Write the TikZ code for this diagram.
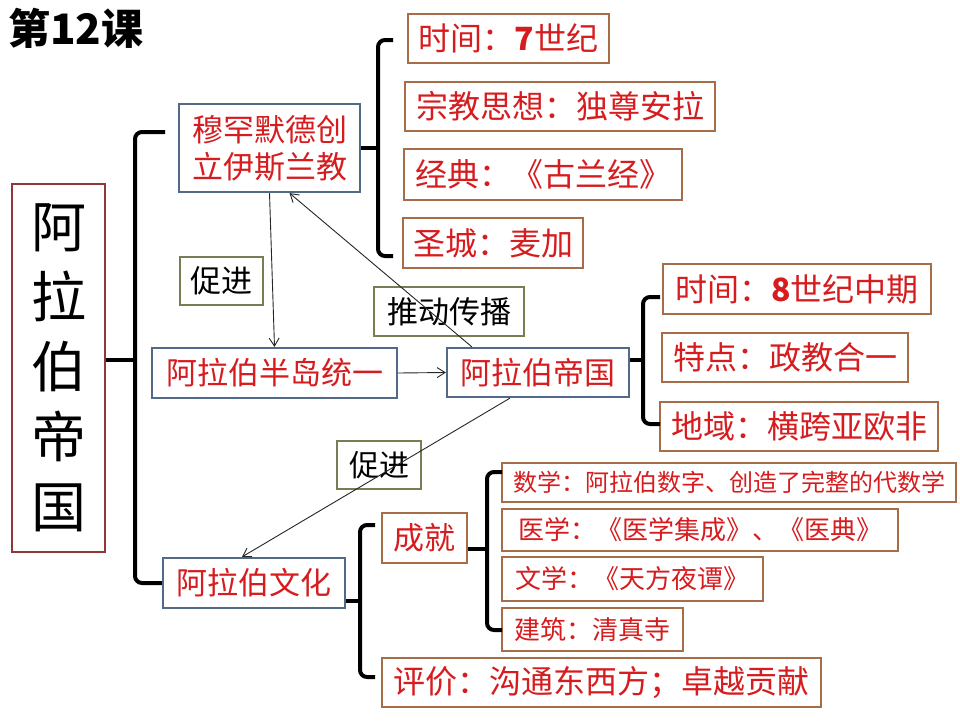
\documentclass[tikz,border=0pt]{standalone}
\usepackage{fontspec}
\setmainfont{Noto Sans CJK SC}
\usetikzlibrary{arrows.meta}
\definecolor{redc}{RGB}{214,28,30}
\definecolor{brownc}{RGB}{165,110,72}
\definecolor{bluec}{RGB}{82,106,136}
\definecolor{olivec}{RGB}{122,124,84}
\definecolor{maroonc}{RGB}{145,55,58}
\newcommand\fsz[1]{\fontsize{#1}{#1}\selectfont}
\tikzset{
  bbox/.style={draw=brownc, line width=2.2pt, inner sep=0pt, text=redc},
  sbox/.style={draw=bluec, line width=2.2pt, inner sep=0pt, text=redc},
  obox/.style={draw=olivec, line width=2pt, inner sep=0pt, text=black},
  brace/.style={line width=4pt, rounded corners=7pt, draw=black},
  conn/.style={line width=0.9pt, draw=black!85, -{Straight Barb[length=8pt,width=10pt]}},
}
\begin{document}
\begin{tikzpicture}[x=1pt,y=-1pt]
\useasboundingbox[fill=white] (0,0) rectangle (960,720);

% title
\node[font=\fsz{42}\bfseries, anchor=west, inner sep=0pt] (title) at (8,28) {第12课};

% main box
\node[draw=maroonc, line width=2pt, inner sep=0pt, minimum width=93, minimum height=368,
      align=center, font=\fontsize{55}{70}\selectfont] (big) at (58.5,368) {阿\\拉\\伯\\帝\\国};

% level 1
\node[sbox, minimum width=181, minimum height=88, align=center, font=\fontsize{31}{37}\selectfont] (mu) at (269.5,148) {穆罕默德创\\立伊斯兰教};
\node[sbox, minimum width=245, minimum height=50, font=\fsz{31}] (ban) at (274.5,373) {阿拉伯半岛统一};
\node[sbox, minimum width=182, minimum height=49, font=\fsz{31}] (di) at (538,372.5) {阿拉伯帝国};
\node[sbox, minimum width=182, minimum height=50, font=\fsz{31}] (wen) at (254,583) {阿拉伯文化};

% labels
\node[obox, minimum width=83, minimum height=48, font=\fsz{31}] (cj1) at (221.5,281) {促进};
\node[obox, minimum width=150, minimum height=49, font=\fsz{31}] (td) at (449,311.5) {推动传播};
\node[obox, minimum width=84, minimum height=48, font=\fsz{30}] (cj2) at (379,465) {促进};

% religion details
\node[bbox, minimum width=201, minimum height=49, font=\fsz{32}] (t1) at (508.5,38.5) {时间：\textbf{7}世纪};
\node[bbox, minimum width=310, minimum height=49, font=\fsz{32}] (t2) at (560,106.5) {宗教思想：独尊安拉};
\node[bbox, minimum width=278, minimum height=51, font=\fsz{32}] (t3) at (543,174.5) {经典：《古兰经》};
\node[bbox, minimum width=180, minimum height=50, font=\fsz{32}] (t4) at (493,243) {圣城：麦加};

% empire details
\node[bbox, minimum width=268, minimum height=50, font=\fsz{32}] (m1) at (797,289) {时间：\textbf{8}世纪中期};
\node[bbox, minimum width=246, minimum height=49, font=\fsz{32}] (m2) at (785,357.5) {特点：政教合一};
\node[bbox, minimum width=278, minimum height=49, font=\fsz{32}] (m3) at (799,426.5) {地域：横跨亚欧非};

% culture
\node[bbox, minimum width=85, minimum height=50, font=\fsz{31}] (cheng) at (424.5,538) {成就};
\node[bbox, minimum width=454, minimum height=39, font=\fsz{24}] (a1) at (729,482.5) {数学：阿拉伯数字、创造了完整的代数学};
\node[bbox, minimum width=396, minimum height=42, font=\fsz{26}] (a2) at (700,530) {医学：《医学集成》、《医典》};
\node[bbox, minimum width=261, minimum height=44, font=\fsz{26}] (a3) at (632.5,579) {文学：《天方夜谭》};
\node[bbox, minimum width=181, minimum height=43, font=\fsz{26}] (a4) at (592.5,629.5) {建筑：清真寺};
\node[bbox, minimum width=439, minimum height=49, font=\fsz{32}] (pj) at (601.5,682.5) {评价：沟通东西方；卓越贡献};

% braces
\coordinate (b1t) at (165,132); \coordinate (b1m) at (135,360);
\draw[brace] (b1t) -| (b1m) |- (wen.west);
\draw[brace] (big.east |- b1m) -- (b1m);

\coordinate (b2t) at (393,40); \coordinate (b2m) at (378,148); \coordinate (b2b) at (393,256);
\draw[brace] (b2t) -| (b2m) |- (b2b);
\draw[brace] (mu.east |- b2m) -- (b2m);

\coordinate (b3t) at (660,297); \coordinate (b3m) at (643,360); \coordinate (b3b) at (660,424);
\draw[brace] (b3t) -| (b3m) |- (b3b);
\draw[brace] (di.east |- b3m) -- (b3m);

\coordinate (b4t) at (375,525); \coordinate (b4m) at (360,601); \coordinate (b4b) at (375,677);
\draw[brace] (b4t) -| (b4m) |- (b4b);
\draw[brace] (wen.east |- b4m) -- (b4m);

\coordinate (b5t) at (502,472); \coordinate (b5m) at (487,549); \coordinate (b5b) at (502,630);
\draw[brace] (b5t) -| (b5m) |- (b5b);
\draw[brace] (cheng.east |- b5m) -- (b5m);

% connectors
\draw[conn] (mu.south) -- (ban.north);
\draw[conn] ([xshift=26pt]di.north west) -- ([xshift=20pt]mu.south);
\draw[conn] (ban.east) -- (di.west);
\draw[conn] ([xshift=-28pt]di.south) -- ([xshift=-12pt]wen.north);
\end{tikzpicture}
\end{document}
